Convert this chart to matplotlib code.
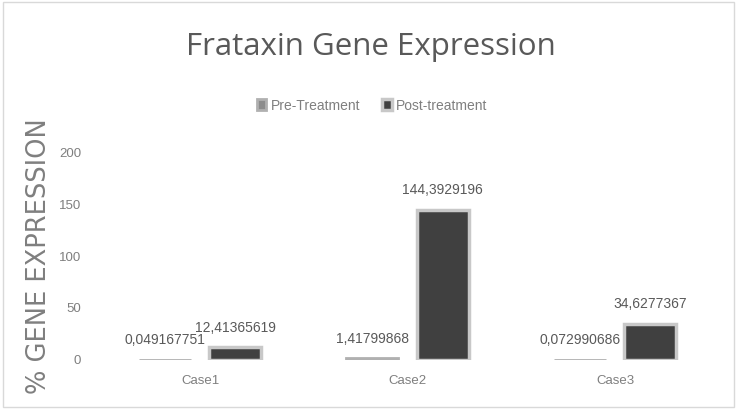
import numpy as np
import matplotlib
matplotlib.use('Agg')
import matplotlib.pyplot as plt
from matplotlib.patches import Rectangle

cases = ['Case1', 'Case2', 'Case3']
pre_treatment = [0.049167751, 1.41799868, 0.072990686]
post_treatment = [12.41365619, 144.3929196, 34.6277367]
pre_labels = ['0,049167751', '1,41799868', '0,072990686']
post_labels = ['12,41365619', '144,3929196', '34,6277367']
yticks = [0, 50, 100, 150, 200]

narrow = ['Liberation Sans', 'DejaVu Sans']
grey_txt = '#7f7f7f'

fig = plt.figure(figsize=(7.41, 4.09), dpi=100)
ax = fig.add_axes([0.13, 0.12, 0.84, 0.508])

x = np.arange(len(cases))
w = 0.25
off = 0.17
ax.bar(x - off, pre_treatment, w, color='#8c8c8c', edgecolor='#b0b0b0', linewidth=2,
       label='Pre-Treatment')
ax.bar(x + off, post_treatment, w, color='#404040', edgecolor='#c8c8c8', linewidth=2.5,
       label='Post-treatment')

for i in range(len(cases)):
    ax.text(x[i] - off, pre_treatment[i] + 12, pre_labels[i], ha='center', va='bottom',
            fontsize=10, color='#595959', family=narrow)
    ax.text(x[i] + off, post_treatment[i] + 12, post_labels[i], ha='center', va='bottom',
            fontsize=10, color='#595959', family=narrow)

ax.set_xlim(-0.5, 2.5)
ax.set_ylim(0, 200)
ax.set_yticks(yticks)
ax.set_xticks(x)
ax.set_xticklabels(cases)
for lab in ax.get_xticklabels() + ax.get_yticklabels():
    lab.set_family(narrow)
    lab.set_fontsize(9.5)
    lab.set_color(grey_txt)
ax.tick_params(length=0, pad=11)
for s in ax.spines.values():
    s.set_visible(False)

ax.set_ylabel('% GENE EXPRESSION', fontsize=18.5, color=grey_txt, family=['DejaVu Sans'])
ax.yaxis.set_label_coords(-0.072, 0.5)

fig.text(0.5, 0.885, 'Frataxin Gene Expression', ha='center', va='center',
         fontsize=22.5, color='#595959', family=['Open Sans', 'DejaVu Sans'])

leg = fig.legend(loc='center', bbox_to_anchor=(0.502, 0.742), ncol=2, frameon=False,
                 handlelength=0.7, handleheight=0.9, columnspacing=1.6,
                 handletextpad=0.3, prop={'family': narrow, 'size': 10})
for t in leg.get_texts():
    t.set_color(grey_txt)

fig.patches.append(Rectangle((0.004, 0.005), 0.987, 0.99, transform=fig.transFigure,
                             fill=False, edgecolor='#d9d9d9', linewidth=1))

fig.savefig('out.png', dpi=100)
